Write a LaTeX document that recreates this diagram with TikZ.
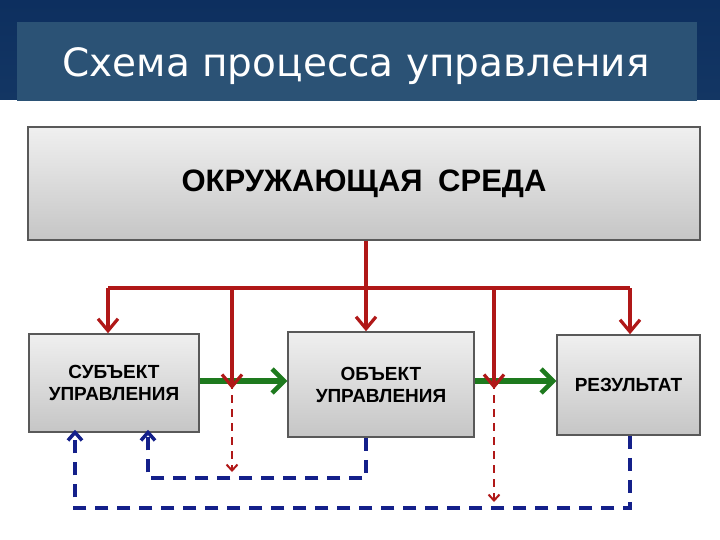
\documentclass[tikz,border=0pt]{standalone}
\usepackage{fontspec}
\setmainfont{DejaVu Sans}
\usetikzlibrary{arrows.meta}
\definecolor{navy}{HTML}{0D2F5F}
\definecolor{titlebox}{HTML}{2B5275}
\definecolor{rred}{HTML}{B01818}
\definecolor{ggreen}{HTML}{1E7A1E}
\definecolor{bblue}{HTML}{14208A}
\tikzset{
  gbox/.style={draw=gray!70!black, line width=1.5pt, top color=gray!12, bottom color=gray!45, font=\bfseries\sffamily, align=center, inner sep=0pt},
  redarr/.style={draw=rred, line width=3.5pt, -{Straight Barb[length=12pt,width=20pt,line width=3.2pt]}},
  redline/.style={draw=rred, line width=3.5pt},
  greenarr/.style={draw=ggreen, line width=6pt, -{Straight Barb[length=12pt,width=24pt,line width=4.5pt]}},
  reddash/.style={draw=rred, line width=2.2pt, dash pattern=on 8pt off 6pt, -{Straight Barb[length=6pt,width=11pt,line width=2pt]}},
  bluedash/.style={draw=bblue, line width=4pt, dash pattern=on 13pt off 9pt},
  bluearr/.style={bluedash, -{Straight Barb[length=8pt,width=14pt,line width=3.5pt]}}
}
\setsansfont{Liberation Sans}
\begin{document}
\begin{tikzpicture}[x=1pt,y=-1pt]
\useasboundingbox (0,0) rectangle (720,540);
\fill[white] (0,0) rectangle (720,540);
\fill[top color=navy, bottom color=navy!80!titlebox] (0,0) rectangle (720,100);
\fill[titlebox] (17,22) rectangle (697,101);
\node[text=white, font=\fontsize{39}{44}\selectfont] (title) at (356,66) {Схема процесса управления};
\node[gbox, minimum width=672pt, minimum height=113pt, font=\bfseries\sffamily\fontsize{31}{36}\selectfont] (env) at (364,183.5) {ОКРУЖАЮЩАЯ\enspace СРЕДА};
\node[gbox, minimum width=170pt, minimum height=98pt, font=\bfseries\sffamily\fontsize{19}{22}\selectfont] (subj) at (114,383) {СУБЪЕКТ\\УПРАВЛЕНИЯ};
\node[gbox, minimum width=186pt, minimum height=105pt, font=\bfseries\sffamily\fontsize{19}{22}\selectfont] (obj) at (381,384.5) {ОБЪЕКТ\\УПРАВЛЕНИЯ};
\node[gbox, minimum width=143pt, minimum height=100pt, font=\bfseries\sffamily\fontsize{19}{22}\selectfont] (res) at (628.5,385) {РЕЗУЛЬТАТ};
\coordinate (hub) at (366,288);
\coordinate (hl) at (108,288);
\coordinate (hr) at (630,288);
\coordinate (h1) at (232,288);
\coordinate (h2) at (494,288);
\coordinate (m1) at (232,381);
\coordinate (m2) at (494,381);
\coordinate (d1) at (232,472);
\coordinate (d2) at (494,502);
\coordinate (b1a) at (366,478);
\coordinate (b1b) at (148,478);
\coordinate (b2a) at (630,508);
\coordinate (b2b) at (75,508);
\draw[redline] (env.south -| hub) -- (hub);
\draw[redline] (hl) -- (hr);
\draw[redarr] (hl) -- (subj.north -| hl);
\draw[redarr] (hub) -- (obj.north -| hub);
\draw[redarr] (hr) -- (res.north -| hr);
\draw[greenarr] (subj.east |- m1) -- (obj.west |- m1);
\draw[greenarr] (obj.east |- m2) -- (res.west |- m2);
\draw[redarr] (h1) -- ([yshift=-8pt]m1);
\draw[redarr] (h2) -- ([yshift=-8pt]m2);
\draw[reddash] (m1) -- (d1);
\draw[reddash] (m2) -- (d2);
\draw[bluearr] (obj.south -| b1a) -- (b1a) -- (b1b) -- ([yshift=3pt]subj.south -| b1b);
\draw[bluearr] (res.south -| b2a) -- (b2a) -- (b2b) -- ([yshift=3pt]subj.south -| b2b);
\end{tikzpicture}
\end{document}
